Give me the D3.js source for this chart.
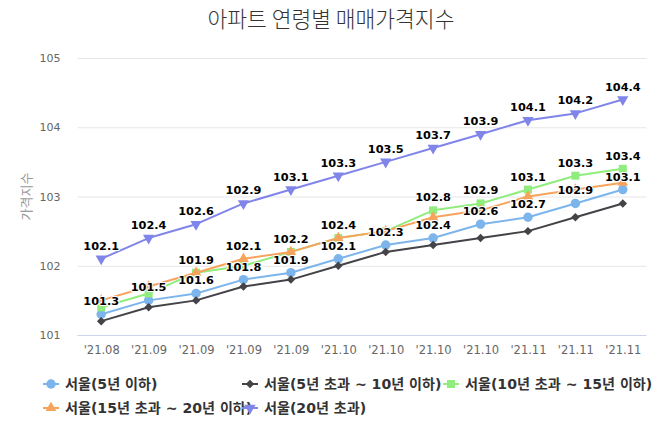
<!DOCTYPE html>
<html>
<head>
<meta charset="utf-8">
<script src="https://cdn.jsdelivr.net/npm/d3@7"></script>
<style>
  html, body { margin: 0; padding: 0; background: #fff; }
  svg { display: block; }
</style>
</head>
<body>
<svg id="chart" width="660" height="440"></svg>
<script>
// ---------- data ----------
const categories = ["'21.08", "'21.09", "'21.09", "'21.09", "'21.09", "'21.10", "'21.10", "'21.10", "'21.10", "'21.11", "'21.11", "'21.11"];
const seriesNames = ["서울(5년 이하)", "서울(5년 초과 ~ 10년 이하)", "서울(10년 초과 ~ 15년 이하)", "서울(15년 초과 ~ 20년 이하)", "서울(20년 초과)"];
const seoulUnder5 = [101.3, 101.5, 101.6, 101.8, 101.9, 102.1, 102.3, 102.4, 102.6, 102.7, 102.9, 103.1];
const seoul5to10 = [101.2, 101.4, 101.5, 101.7, 101.8, 102.0, 102.2, 102.3, 102.4, 102.5, 102.7, 102.9];
const seoul10to15 = [101.4, 101.6, 101.9, 102.0, 102.2, 102.4, 102.5, 102.8, 102.9, 103.1, 103.3, 103.4];
const seoul15to20 = [101.5, 101.7, 101.9, 102.1, 102.2, 102.4, 102.5, 102.7, 102.8, 103.0, 103.1, 103.2];
const seoulOver20 = [102.1, 102.4, 102.6, 102.9, 103.1, 103.3, 103.5, 103.7, 103.9, 104.1, 104.2, 104.4];
const yTicks = [101, 102, 103, 104, 105];
const titleText = "아파트 연령별 매매가격지수";
const yAxisTitle = "가격지수";

// ---------- styles ----------
const colors = ["#7cb5ec", "#434348", "#90ed7d", "#f7a35c", "#8085e9"];
const symbols = [d3.symbolCircle, "diamond", d3.symbolSquare, d3.symbolTriangle, "triangleDown"];
const allValues = [seoulUnder5, seoul5to10, seoul10to15, seoul15to20, seoulOver20];
const series = seriesNames.map((n, i) => ({ name: n, values: allValues[i], color: colors[i], symbol: symbols[i] }));

const svg = d3.select("#chart");
const W = 660, H = 440;
const plot = { left: 77.5, right: 646.5, top: 58, bottom: 335 };

const x = d3.scalePoint().domain(d3.range(categories.length)).range([plot.left, plot.right]).padding(0.5);
const y = d3.scaleLinear().domain([101, 105]).range([plot.bottom, plot.top]);

// title
svg.append("text")
  .attr("x", W / 2 + 1).attr("y", 27)
  .attr("text-anchor", "middle")
  .attr("font-family", "'Noto Sans CJK KR', 'Noto Sans', sans-serif")
  .attr("font-weight", 300)
  .attr("font-size", 21.5)
  .attr("fill", "#333")
  .text(titleText);

// grid + y axis
const yAxis = d3.axisLeft(y).tickValues(yTicks).tickSize(-(plot.right - plot.left)).tickPadding(17).tickFormat(d3.format("d"));
const gy = svg.append("g").attr("transform", `translate(${plot.left},0)`).call(yAxis);
gy.select(".domain").remove();
gy.selectAll(".tick line").attr("stroke", "#e6e6e6").attr("stroke-width", 1);
gy.selectAll(".tick text").attr("fill", "#666").attr("font-size", 11).attr("font-family", "'DejaVu Sans', sans-serif");

// x axis
const xAxis = d3.axisBottom(x).tickFormat(i => categories[i]).tickSize(0).tickPadding(11);
const gx = svg.append("g").attr("transform", `translate(0,${plot.bottom})`).call(xAxis);
gx.select(".domain").attr("stroke", "#ccd6eb").attr("d", `M${plot.left},0.5H${plot.right}`);
gx.selectAll(".tick text").attr("fill", "#666").attr("font-size", 11.5).attr("font-family", "'DejaVu Sans', sans-serif");

// y axis title
svg.append("text")
  .attr("transform", `translate(31,${(plot.top + plot.bottom) / 2}) rotate(-90)`)
  .attr("text-anchor", "middle")
  .attr("font-family", "'Noto Sans CJK KR', sans-serif")
  .attr("font-size", 13)
  .attr("fill", "#999")
  .text(yAxisTitle);

function symbolPath(sym, size) {
  if (sym === "triangleDown") return d3.symbol(d3.symbolTriangle, size)();
  if (sym === "diamond") return d3.symbol(d3.symbolSquare, size)();
  return d3.symbol(sym, size)();
}
function symbolRot(sym) {
  if (sym === "triangleDown") return " rotate(180)";
  if (sym === "diamond") return " rotate(45)";
  return "";
}
const symSize = { 0: 70, 1: 36, 2: 64, 3: 50, 4: 55 };

// lines and markers
const line = d3.line().x((d, i) => x(i)).y(d => y(d));
series.forEach((s, si) => {
  const g = svg.append("g");
  g.append("path").datum(s.values).attr("d", line)
    .attr("fill", "none").attr("stroke", s.color).attr("stroke-width", 2)
    .attr("stroke-linejoin", "round").attr("stroke-linecap", "round");
  g.selectAll("path.m").data(s.values).enter().append("path")
    .attr("class", "m")
    .attr("d", symbolPath(s.symbol, symSize[si]))
    .attr("transform", (d, i) => `translate(${x(i)},${y(d)})` + symbolRot(s.symbol))
    .attr("fill", s.color);
});

// data labels with overlap hiding (series order priority)
const placed = [];
const labelLayer = svg.append("g");
series.forEach((s) => {
  s.values.forEach((v, i) => {
    const cx = x(i), cy = y(v) - 13;
    const w = 34, h = 16;
    const box = { x0: cx - w / 2, x1: cx + w / 2, y0: cy - h / 2, y1: cy + h / 2 };
    const hit = placed.some(b => !(box.x1 <= b.x0 || box.x0 >= b.x1 || box.y1 <= b.y0 || box.y0 >= b.y1));
    if (hit) return;
    placed.push(box);
    labelLayer.append("text")
      .attr("x", cx).attr("y", cy + 4)
      .attr("text-anchor", "middle")
      .attr("font-family", "'DejaVu Sans', sans-serif")
      .attr("font-weight", "bold")
      .attr("font-size", 11.3)
      .attr("fill", "#000")
      .attr("stroke", "#fff").attr("stroke-width", 2).attr("stroke-linejoin", "round")
      .attr("paint-order", "stroke")
      .text(d3.format(".1f")(v));
  });
});

// legend
const legendPos = [[43, 384], [242, 384], [443, 384], [43, 408], [242, 408]];
series.forEach((s, si) => {
  const [lx, ly] = legendPos[si];
  const g = svg.append("g").attr("transform", `translate(${lx},${ly})`);
  g.append("line").attr("x1", 0).attr("x2", 16).attr("y1", 0).attr("y2", 0)
    .attr("stroke", s.color).attr("stroke-width", 2);
  g.append("path").attr("d", symbolPath(s.symbol, symSize[si]))
    .attr("transform", "translate(8,0)" + symbolRot(s.symbol))
    .attr("fill", s.color);
  g.append("text").attr("x", 22).attr("y", 5)
    .attr("font-family", "'DejaVu Sans', 'Noto Sans CJK KR', sans-serif")
    .attr("font-weight", "bold")
    .attr("font-size", 14.1)
    .attr("fill", "#333")
    .text(s.name);
});
</script>
</body>
</html>
